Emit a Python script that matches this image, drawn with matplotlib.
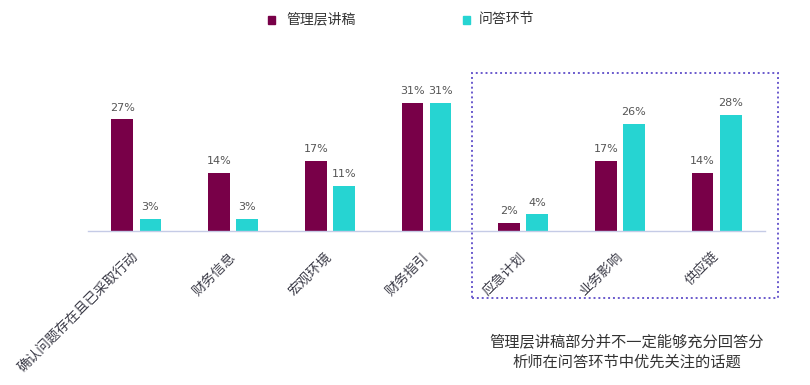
import matplotlib
matplotlib.use("Agg")
import matplotlib.pyplot as plt
from matplotlib.patches import Rectangle
import numpy as np

plt.rcParams['font.family'] = ['Noto Sans CJK SC', 'DejaVu Sans']

categories = ["确认问题存在且已采取行动", "财务信息", "宏观环境", "财务指引", "应急计划", "业务影响", "供应链"]
series_names = ["管理层讲稿", "问答环节"]
mgmt = [27, 14, 17, 31, 2, 17, 14]
qa = [3, 3, 11, 31, 4, 26, 28]
note = "管理层讲稿部分并不一定能够充分回答分\n析师在问答环节中优先关注的话题"

c_mgmt = "#780048"
c_qa = "#26d4d2"

fig = plt.figure(figsize=(8.1, 3.85), dpi=100)
ax = fig.add_axes([88/810, 0.4, 677/810, 144.6/385])
x = np.arange(len(categories))
w = 0.225
off = 0.145
b1 = ax.bar(x - off, mgmt, w, color=c_mgmt, label=series_names[0])
b2 = ax.bar(x + off, qa, w, color=c_qa, label=series_names[1])
for bars, vals in ((b1, mgmt), (b2, qa)):
    for r, v in zip(bars, vals):
        ax.annotate(f"{v}%", (r.get_x() + r.get_width()/2, v), xytext=(0, 5),
                    textcoords="offset points", ha="center", va="bottom",
                    fontsize=8, color="#555555", family=['DejaVu Sans'])
ax.set_xlim(-0.5, 6.5)
ax.set_ylim(0, 35)
for s in ["top", "right", "left"]:
    ax.spines[s].set_visible(False)
ax.spines["bottom"].set_color("#c5cbe6")
ax.spines["bottom"].set_linewidth(1.0)
ax.set_yticks([])
ax.set_xticks(x)
ax.set_xticklabels(categories, rotation=45, ha="right", va="center",
                   rotation_mode="anchor", fontsize=9.8, color="#3c3c48")
ax.tick_params(axis="x", length=0, pad=17)

# legend
fig.patches.append(Rectangle((268/810, 1 - 24/385), 7/810, 8/385, transform=fig.transFigure,
                             color=c_mgmt))
fig.text(286/810, 1 - 19/385, series_names[0], fontsize=10, color="#333333", va="center")
fig.patches.append(Rectangle((463/810, 1 - 24/385), 7/810, 8/385, transform=fig.transFigure,
                             color=c_qa))
fig.text(479/810, 1 - 19/385, series_names[1], fontsize=10, color="#333333", va="center")

# dotted box
box = Rectangle((472/810, 1 - 298/385), (778-472)/810, (298-73)/385, transform=fig.transFigure,
                fill=False, edgecolor="#6a5acd", linestyle=(0, (1, 1.5)), linewidth=1.4)
fig.patches.append(box)

fig.text(627/810, 1 - 352/385, note, ha="center", va="center", fontsize=11,
         color="#333333", linespacing=1.2)

fig.savefig("out.png", dpi=100)
